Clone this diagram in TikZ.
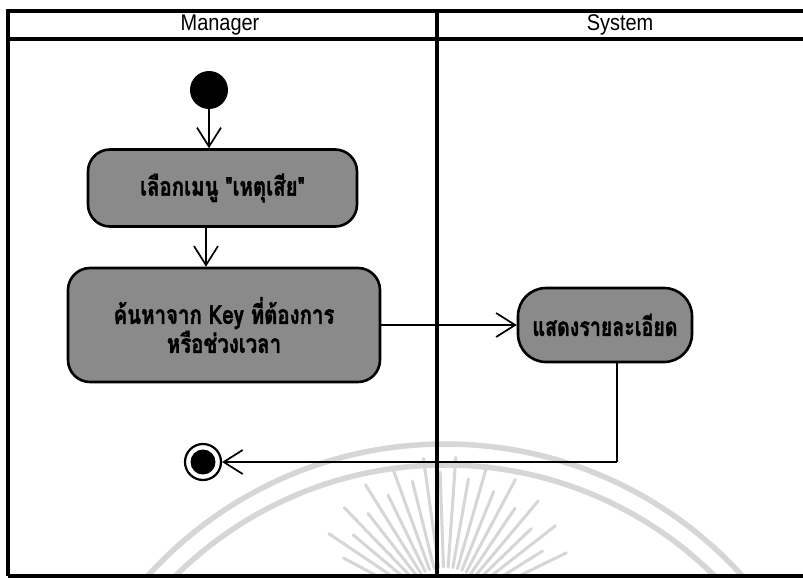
\documentclass[tikz,border=0pt]{standalone}
\usepackage{fontspec}
\setmainfont{Liberation Sans}
\newfontfamily\thaifont[Script=Thai, BoldFeatures={FakeBold=1.6}]{Loma}
\usetikzlibrary{arrows.meta,calc}

\definecolor{actfill}{HTML}{8A8A8A}
\definecolor{seal}{HTML}{D6D6D6}

% activity labels are set a little taller than the font's natural shape
\newcommand\tallthai[1]{\scalebox{1.02}[1.3]{#1}}

\tikzset{
  lane/.style={line width=3.6pt},
  activity/.style={draw=black, line width=2.6pt, fill=actfill,
    rounded corners=22pt, align=center, inner sep=0pt,
    font=\thaifont\bfseries\fontsize{20}{29}\selectfont},
  flow/.style={line width=1.7pt,
    -{Straight Barb[length=19pt,width=24pt,line width=1.7pt]}},
  flowline/.style={line width=1.7pt},
  lanetitle/.style={font=\fontsize{21}{22}\selectfont},
}

\begin{document}
\begin{tikzpicture}[x=1pt,y=-1pt]
  \useasboundingbox (0,0) rectangle (803,578);
  \fill[white] (0,0) rectangle (803,578);

  % faint seal in the background
  \begin{scope}
    \clip (8,40) rectangle (803,576);
    \draw[seal, line width=5.5pt] (445,845) circle[radius=401];
    \draw[seal, line width=5.5pt] (445,848) circle[radius=383];
    \foreach \a/\r in {28/70,34/95,40/75,46/100,52/80,58/105,64/85,70/108,76/90,
                       82/110,88/95,94/110,100/90,106/108,112/85,118/105,124/80,
                       130/100,136/75,142/95,148/70,154/90}
      \draw[seal, line width=3pt, line cap=round]
        ($(445,612)+(\a:-45)$) -- ($(445,612)+(\a:-\r-45)$);
  \end{scope}

  % swimlane frame
  \draw[lane] (8,11) -- (803,11);
  \draw[lane] (8,39) -- (803,39);
  \draw[lane] (8,9.2) -- (8,576);
  \draw[lane] (437,11) -- (437,576);
  \draw[lane] (8,576) -- (803,576);

  \node[lanetitle] (mgr) at (220,25) {\scalebox{0.95}[1.08]{Manager}};
  \node[lanetitle] (sys) at (620,25) {\scalebox{0.95}[1.08]{System}};

  % initial and final states
  \fill (209,90) circle[radius=19];
  \coordinate (start) at (209,90);
  \node[circle, minimum size=38pt, inner sep=0pt] (startn) at (start) {};

  \node[circle, draw=black, line width=2.2pt, minimum size=36pt, inner sep=0pt] (fin) at (203,462) {};
  \fill (203,462) circle[radius=12.5];

  % activities
  \node[activity, minimum width=269pt, minimum height=77pt] (b1) at (222.5,188)
    {\tallthai{เลือกเมนู "เหตุเสีย"}};
  \node[activity, minimum width=312pt, minimum height=114pt] (b2) at (224,325)
    {\tallthai{ค้นหาจาก Key ที่ต้องการ}\\\tallthai{หรือช่วงเวลา}};
  \draw[black!45, line width=0.8pt, rounded corners=16pt]
    ($(b2.south west)+(7,-7)$) rectangle ($(b2.north east)+(-7,7)$);
  \node[activity, minimum width=174pt, minimum height=74pt, rounded corners=28pt] (b3) at (605,325)
    {\scalebox{0.98}[1.3]{แสดงรายละเอียด}};

  % control flow
  \draw[flow] (startn.south) -- (startn.south |- b1.north);
  \draw[flow] (b1.south -| 206,0) -- (b2.north -| 206,0);
  \draw[flow] (b2.east) -- (b3.west);
  \coordinate (turn) at (617,462);
  \draw[flowline] (b3.south -| turn) -- (turn);
  \draw[flow] (turn) -- (fin.east);
\end{tikzpicture}
\end{document}
